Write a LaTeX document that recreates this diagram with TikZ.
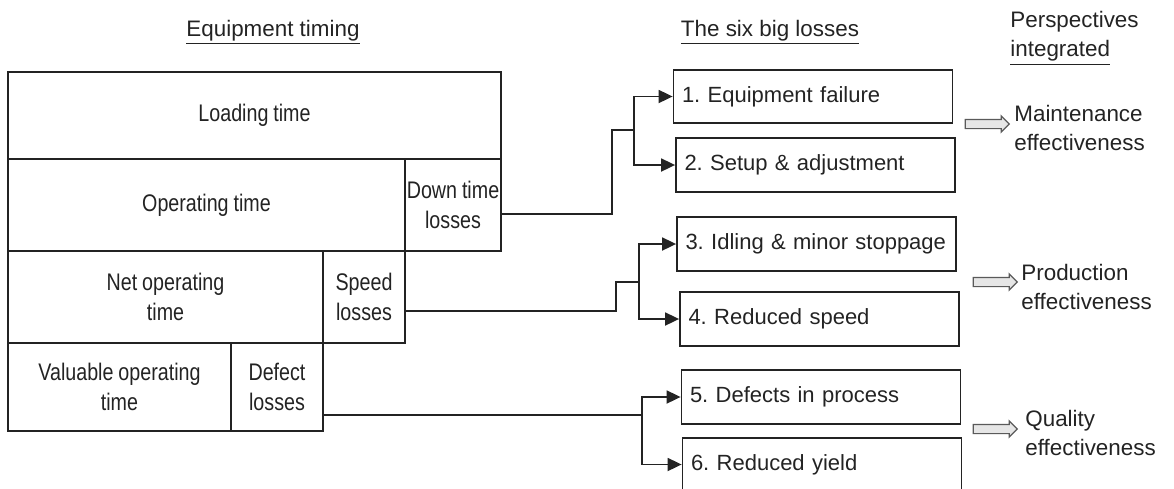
\documentclass[tikz,border=0pt]{standalone}
\usepackage{fontspec}
\setmainfont{Liberation Sans}
\newfontfamily\cellfam{Liberation Sans}[FakeStretch=0.82,WordSpace=0.9]
\usetikzlibrary{arrows.meta, shapes.arrows, calc}
\definecolor{ink}  {RGB}{ 35, 35, 35}
\definecolor{hfill}{RGB}{230,230,230}
\tikzset{
  % Cell of the equipment timing block
  TC/.style 2 args={rectangle,draw=ink,line width=0.9pt,text=ink,
             minimum width=#1,minimum height=#2,align=center,
             inner sep=0.5pt,font=\cellfam\fontsize{12}{15}\selectfont},
  % Loss box
  LB/.style={rectangle,draw=ink,line width=0.9pt,text=ink,
             minimum width=139.5pt,minimum height=26.75pt,
             text width=131pt,align=left,inner xsep=0pt,
             font=\fontsize{11}{14}\selectfont\frenchspacing},
  % Headings and perspective labels
  HD/.style={text=ink,inner sep=0pt,align=left,
             font=\fontsize{11.2}{14.5}\selectfont},
  % Hollow block arrow
  HA/.style={single arrow,draw=ink!75,fill=hfill,line width=0.6pt,
             minimum height=22pt,inner xsep=0pt,inner ysep=2pt,
             single arrow head extend=1.75pt},
  % Connectors
  Ln/.style ={line width=0.9pt,color=ink},
  Arr/.style={-{Triangle[length=7pt,width=6.5pt]},line width=0.9pt,color=ink},
}
\begin{document}
\begin{tikzpicture}[x=0.5pt,y=-0.5pt]
        \useasboundingbox (0,0) rectangle (1174,488);
        % Headings
        \node[HD,anchor=base] (het) at (273,36)
              {\underline{Equipment timing}};
        \node[HD,anchor=base] (hsb) at (770,36)
              {\underline{The six big losses}};
        \node[HD,anchor=north west] (hpi) at (1010,11)
              {Perspectives\\\underline{integrated}};
        % Equipment timing block
        \node[TC={246.5pt}{43.5pt}] at (254.5,115.5) (load) {Loading time};
        \node[TC={198.5pt}{46pt}]   at (206.5,205)   (oper) {Operating time};
        \node[TC={48pt}{46pt}]      at (453,205)     (down) {Down time\\losses};
        \node[TC={157.5pt}{46pt}]   at (165.5,297)   (net)  {Net operating\\time};
        \node[TC={41pt}{46pt}]      at (364,297)     (speed){Speed\\losses};
        \node[TC={111.5pt}{44pt}]   at (119.5,387)   (val)  {Valuable operating\\time};
        \node[TC={46pt}{44pt}]      at (277,387)     (defect){Defect\\losses};
        % The six big losses
        \node[LB] at (813,96.5)  (b1) {1. Equipment failure};
        \node[LB] at (815.5,165) (b2) {2. Setup \& adjustment};
        \node[LB] at (816.5,244) (b3) {3. Idling \& minor stoppage};
        \node[LB] at (819.5,319) (b4) {4. Reduced speed};
        \node[LB] at (821,397)   (b5) {5. Defects in process};
        \node[LB] at (822,464.5) (b6) {6. Reduced yield};
        % Down time losses -> 1, 2
        \coordinate (dj) at (612,130);
        \coordinate (df) at (634,130);
        \draw[Ln] ($(down.east)+(0,9)$) -| (dj) -- (df);
        \foreach \b in {b1,b2}
          \draw[Arr] (df) |- (\b.west);
        % Speed losses -> 3, 4
        \coordinate (sj) at (616,282);
        \coordinate (sf) at (639,282);
        \draw[Ln] ($(speed.east)+(0,14)$) -| (sj) -- (sf);
        \foreach \b in {b3,b4}
          \draw[Arr] (sf) |- (\b.west);
        % Defect losses -> 5, 6
        \coordinate (qf) at (642,415);
        \draw[Ln] ($(defect.east)+(0,28)$) -- (qf);
        \foreach \b in {b5,b6}
          \draw[Arr] (qf) |- (\b.west);
        % Perspectives
        \node[HA] at (985,124) (ha1) {};
        \node[HA] at (993,282) (ha2) {};
        \node[HA] at (993,429) (ha3) {};
        \node[HD,anchor=west] at (1014,128) (pm) {Maintenance\\effectiveness};
        \node[HD,anchor=west] at (1021,287) (pp) {Production\\effectiveness};
        \node[HD,anchor=west] at (1025,433) (pq) {Quality\\effectiveness};
\end{tikzpicture}
\end{document}
